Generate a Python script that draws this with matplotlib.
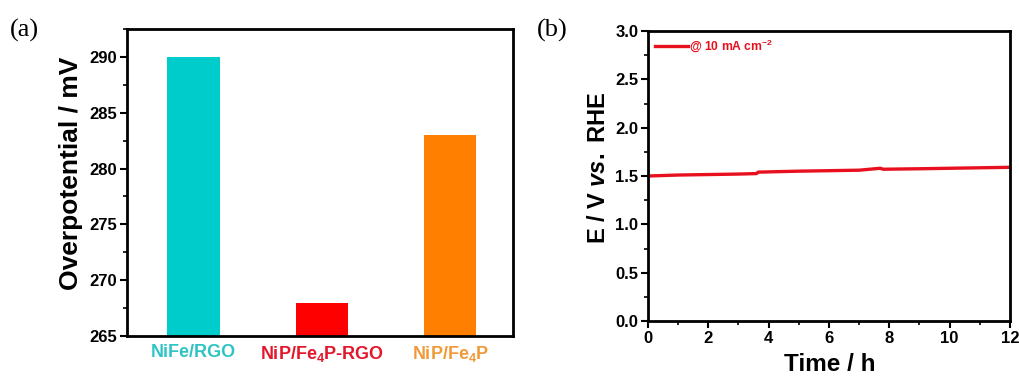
import matplotlib
matplotlib.use("Agg")
import matplotlib.pyplot as plt
from matplotlib.ticker import MultipleLocator

plt.rcParams['font.family'] = ['Liberation Sans', 'DejaVu Sans']
plt.rcParams['font.weight'] = 'bold'
plt.rcParams['mathtext.fontset'] = 'custom'
plt.rcParams['mathtext.rm'] = 'Liberation Sans:bold'
plt.rcParams['mathtext.it'] = 'Liberation Sans:bold:italic'
plt.rcParams['mathtext.bf'] = 'Liberation Sans:bold'
plt.rcParams['mathtext.default'] = 'regular'

# ---- data ----
categories = ["NiFe/RGO", "NiP/Fe$_4$P-RGO", "NiP/Fe$_4$P"]
overpotential = [290, 268, 283]
bar_colors = ["#00CCCC", "#FF0000", "#FF8000"]
label_colors = ["#2EC4C4", "#E3172B", "#F09A3A"]

time_h = [0, 1, 2, 3, 3.6, 3.65, 5, 6, 7, 7.7, 7.8, 9, 10, 11, 12]
potential = [1.50, 1.51, 1.515, 1.52, 1.525, 1.54, 1.55, 1.555, 1.56, 1.58, 1.57, 1.575, 1.58, 1.585, 1.59]

W, H = 1020, 379
fig = plt.figure(figsize=(W / 100, H / 100), dpi=100)

def rect(x0, y0, x1, y1):
    return [x0 / W, 1 - y1 / H, (x1 - x0) / W, (y1 - y0) / H]

# ---- panel (a) ----
ax1 = fig.add_axes(rect(127, 29, 513, 336))
x = range(len(categories))
ax1.bar(x, [v - 265 for v in overpotential], bottom=265, width=0.41, color=bar_colors)
ax1.set_xlim(-0.52, 2.49)
ax1.set_ylim(265, 292.5)
ax1.set_xticks(list(x))
ax1.set_xticklabels(categories, fontsize=13, fontweight='bold')
for lbl, c in zip(ax1.get_xticklabels(), label_colors):
    lbl.set_color(c)
ax1.tick_params(axis='x', length=0, pad=6)
ax1.yaxis.set_major_locator(MultipleLocator(5))
ax1.yaxis.set_minor_locator(MultipleLocator(2.5))
ax1.tick_params(axis='y', which='major', direction='out', length=5, width=1.5, labelsize=12, pad=2)
ax1.tick_params(axis='y', which='minor', direction='out', length=3, width=1.2)
for lbl in ax1.get_yticklabels():
    lbl.set_fontweight('bold')
ax1.set_ylabel("Overpotential / mV", fontsize=19, fontweight='bold')
ax1.yaxis.set_label_coords(-0.114, 0.53)
for s in ax1.spines.values():
    s.set_linewidth(2)

# ---- panel (b) ----
ax2 = fig.add_axes(rect(648, 31, 1010, 321))
ax2.plot(time_h, potential, color="#E8101E", lw=2.4, label="@ 10 mA cm$^{-2}$")
ax2.set_xlim(0, 12)
ax2.set_ylim(0, 3)
ax2.xaxis.set_major_locator(MultipleLocator(2))
ax2.xaxis.set_minor_locator(MultipleLocator(1))
ax2.yaxis.set_major_locator(MultipleLocator(0.5))
ax2.yaxis.set_minor_locator(MultipleLocator(0.25))
ax2.yaxis.set_major_formatter(plt.FormatStrFormatter('%.1f'))
ax2.tick_params(which='major', direction='out', length=5, width=1.5, labelsize=12, pad=2)
ax2.tick_params(which='minor', direction='out', length=3, width=1.2)
for lbl in ax2.get_xticklabels() + ax2.get_yticklabels():
    lbl.set_fontweight('bold')
ax2.set_xlabel("Time / h", fontsize=17.5, fontweight='bold')
ax2.xaxis.set_label_coords(0.503, -0.112)
ax2.set_ylabel("E / V $\\mathit{vs.}$ RHE", fontsize=17, fontweight='bold')
ax2.yaxis.set_label_coords(-0.105, 0.528)
for s in ax2.spines.values():
    s.set_linewidth(2)
leg = ax2.legend(loc='upper left', frameon=False, handlelength=2.8, handletextpad=0.05,
                 borderaxespad=0.15, prop={'size': 8.7, 'weight': 'bold'})
for t in leg.get_texts():
    t.set_color("#E8101E")

fig.text(10 / W, 1 - 30 / H, "(a)", fontsize=19, family='Liberation Serif', weight='normal', va='center')
fig.text(537 / W, 1 - 30 / H, "(b)", fontsize=19, family='Liberation Serif', weight='normal', va='center')

fig.savefig("out.png", dpi=100)
